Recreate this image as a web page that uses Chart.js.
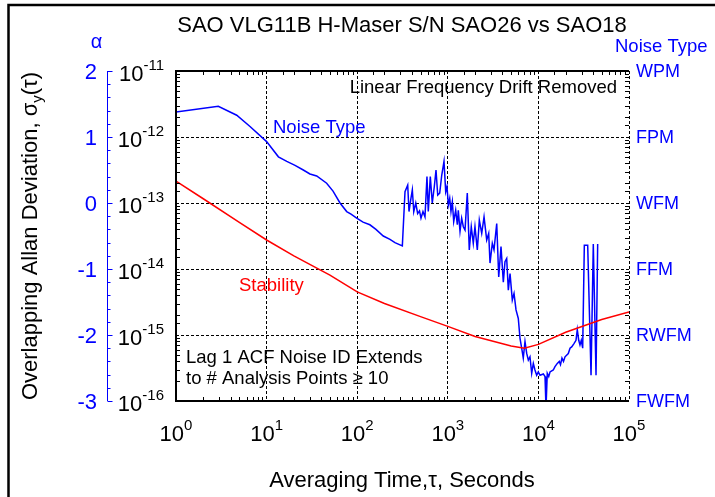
<!DOCTYPE html>
<html>
<head>
<meta charset="utf-8">
<title>SAO VLG11B H-Maser S/N SAO26 vs SAO18</title>
<script src="https://cdn.jsdelivr.net/npm/chart.js@4.4.1/dist/chart.umd.min.js"></script>
<style>
    html, body { margin: 0; padding: 0; background: #fff; }
    canvas { display: block; }
</style>
</head>
<body>
<canvas id="adevChart" width="715" height="497"></canvas>
<script>
// Overlapping Allan deviation (red "Stability" curve)
const stabilityTau = [1, 2, 5, 10, 20, 50, 100, 200, 500, 1000, 2000, 5000, 7000, 10000, 20000, 50000, 100000];
const stabilitySigma = [2.15e-13, 1.16e-13, 5.1e-14, 2.75e-14, 1.58e-14, 8.1e-15, 4.5e-15, 3.0e-15, 1.9e-15,
    1.35e-15, 9.5e-16, 6.8e-16, 6.3e-16, 7.2e-16, 1.1e-15, 1.72e-15, 2.24e-15];

// Lag 1 ACF noise type (alpha, blue "Noise Type" curve)
const noiseTau = [1, 2.93, 4.68, 6.56, 10, 13.5, 16.7, 20.6, 25.4, 30.1, 35.7, 46, 54.1, 64.6, 76.6, 85.5, 98.7,
    116, 138, 161, 194, 230, 261, 315, 337, 361, 373, 392, 406, 421, 443, 465, 487, 506, 532, 560, 589, 609,
    641, 674, 710, 741, 774, 814, 857, 908, 948, 980, 1014, 1050, 1084, 1122, 1162, 1222, 1274, 1306, 1364,
    1422, 1483, 1549, 1641, 1726, 1816, 1911, 1995, 2117, 2228, 2368, 2512, 2688, 2827, 2924, 3100, 3236,
    3467, 3648, 3866, 4100, 4276, 4467, 4656, 4864, 5152, 5383, 5662, 6000, 6266, 6592, 6808, 7112, 7430,
    7740, 8072, 8433, 8790, 9162, 9572, 9977, 10420, 11330, 11830, 12130, 12530, 13000, 13430, 14600, 15240,
    16170, 17010, 17540, 18200, 18920, 19670, 21380, 22340, 23290, 24700, 26000, 26870, 27860, 28770, 29740,
    30820, 32130, 35000, 38100, 40360, 43250, 45100];
const noiseAlpha = [1.38, 1.465, 1.33, 1.16, 0.93, 0.70, 0.63, 0.57, 0.50, 0.44, 0.41, 0.30, 0.18, 0.0, -0.13,
    -0.17, -0.23, -0.29, -0.33, -0.40, -0.50, -0.55, -0.60, -0.65, 0.17, 0.27, -0.13, 0.07, 0.20, -0.13, 0.0,
    -0.16, -0.12, -0.23, -0.13, -0.21, 0.40, -0.13, 0.40, 0.0, 0.25, 0.50, 0.12, 0.15, 0.42, 0.63, 0.17, 0.25,
    -0.03, 0.07, -0.13, 0.02, -0.28, -0.11, -0.33, -0.11, -0.43, -0.23, -0.36, -0.41, 0.15, -0.71, -0.36,
    -0.61, -0.36, -0.71, -0.26, -0.46, -0.21, -0.56, -0.46, -0.91, -0.61, -0.71, -0.31, -1.12, -0.66, -1.20,
    -0.89, -0.84, -1.32, -1.07, -1.47, -1.37, -1.62, -1.75, -2.05, -2.23, -2.35, -2.10, -2.28, -2.38, -2.33,
    -2.58, -2.43, -2.53, -2.61, -2.56, -2.61, -2.59, -2.63, -3.10, -2.58, -2.63, -2.56, -2.53, -2.48, -2.43,
    -2.40, -2.45, -2.35, -2.40, -2.33, -2.28, -2.20, -2.18, -2.13, -2.08, -1.92, -2.08, -2.15, -2.08, -2.20,
    -0.64, -0.64, -2.61, -0.62, -2.61, -0.62];

// Axis labels
const xTickValues = [1, 10, 100, 1000, 10000, 100000];
const yTickValues = [1e-11, 1e-12, 1e-13, 1e-14, 1e-15, 1e-16];
const alphaTicks = [2, 1, 0, -1, -2, -3];
const noiseTypeLabels = ['WPM', 'FPM', 'WFM', 'FFM', 'RWFM', 'FWFM'];

const FONT = "'Liberation Sans', Arial, Helvetica, sans-serif";
const BLUE = '#0000ff';
const RED = '#ff0000';

function isDecade(v) {
    const l = Math.log10(v);
    return Math.abs(l - Math.round(l)) < 1e-6;
}

// "10" with a superscript exponent, y is the baseline of the "10"
function drawPower(ctx, value, x, y, align) {
    const exp = String(Math.round(Math.log10(value)));
    ctx.font = '22px ' + FONT;
    const baseW = ctx.measureText('10').width;
    ctx.font = '15px ' + FONT;
    const expW = ctx.measureText(exp).width;
    const left = align === 'right' ? x - baseW - expW : x - (baseW + expW) / 2;
    ctx.textAlign = 'left';
    ctx.textBaseline = 'alphabetic';
    ctx.font = '22px ' + FONT;
    ctx.fillText('10', left, y);
    ctx.font = '15px ' + FONT;
    ctx.fillText(exp, left + baseW, y - 11);
}

function text(ctx, str, x, y, size, color, align) {
    ctx.font = size + 'px ' + FONT;
    ctx.fillStyle = color;
    ctx.textAlign = align || 'left';
    ctx.textBaseline = 'alphabetic';
    ctx.fillText(str, x, y);
}

// Frame, tick labels, second axes and annotations
const decorations = {
    id: 'decorations',
    afterDraw(chart) {
        const { ctx, chartArea: a, scales } = chart;
        const xs = scales.x, ys = scales.y, as = scales.alpha;
        ctx.save();

        // figure border (top and left only)
        ctx.strokeStyle = '#000';
        ctx.lineWidth = 2.5;
        ctx.beginPath();
        ctx.moveTo(715, 5);
        ctx.lineTo(8.5, 5);
        ctx.lineTo(8.5, 497);
        ctx.stroke();

        // minor log ticks inside the frame
        ctx.lineWidth = 1;
        ctx.beginPath();
        xs.ticks.forEach(t => {
            if (isDecade(t.value)) return;
            const px = Math.round(xs.getPixelForValue(t.value)) + 0.5;
            ctx.moveTo(px, a.bottom); ctx.lineTo(px, a.bottom - 4);
            ctx.moveTo(px, a.top); ctx.lineTo(px, a.top + 4);
        });
        ys.ticks.forEach(t => {
            if (isDecade(t.value)) return;
            const py = Math.round(ys.getPixelForValue(t.value)) + 0.5;
            ctx.moveTo(a.left, py); ctx.lineTo(a.left + 4, py);
            ctx.moveTo(a.right, py); ctx.lineTo(a.right - 4, py);
        });
        ctx.stroke();

        // solid frame on left, top and bottom
        ctx.lineWidth = 2;
        ctx.beginPath();
        ctx.moveTo(a.right, a.top);
        ctx.lineTo(a.left, a.top);
        ctx.lineTo(a.left, a.bottom);
        ctx.lineTo(a.right, a.bottom);
        ctx.stroke();

        // log tick labels
        ctx.fillStyle = '#000';
        xTickValues.forEach(v => drawPower(ctx, v, xs.getPixelForValue(v), a.bottom + 40, 'center'));
        yTickValues.forEach(v => drawPower(ctx, v, a.left - 12, ys.getPixelForValue(v) + 10, 'right'));

        // alpha axis on the far left
        const ax = 107.5;
        ctx.strokeStyle = BLUE;
        ctx.lineWidth = 1;
        ctx.beginPath();
        ctx.moveTo(ax, as.getPixelForValue(2));
        ctx.lineTo(ax, as.getPixelForValue(-3));
        for (let k = -15; k <= 10; k++) {
            const py = Math.round(as.getPixelForValue(k / 5)) + 0.5;
            ctx.moveTo(ax, py);
            ctx.lineTo(ax + (k % 5 === 0 ? 5 : 3), py);
        }
        ctx.stroke();
        alphaTicks.forEach(v => text(ctx, String(v), 97, as.getPixelForValue(v) + 8, 22, BLUE, 'right'));
        text(ctx, 'α', 96.5, 48, 20, BLUE, 'center');

        // noise type labels on the right
        noiseTypeLabels.forEach((lab, i) => text(ctx, lab, 636, as.getPixelForValue(alphaTicks[i]) + 6, 18, BLUE));
        text(ctx, 'Noise Type', 615, 52, 18.5, BLUE);

        // titles
        text(ctx, 'SAO VLG11B H-Maser S/N SAO26 vs SAO18', 402, 32, 22, '#000', 'center');
        text(ctx, 'Averaging Time,τ, Seconds', 402, 487, 22, '#000', 'center');

        // rotated y title with subscript
        ctx.save();
        ctx.translate(37, 236);
        ctx.rotate(-Math.PI / 2);
        ctx.fillStyle = '#000';
        ctx.textAlign = 'left';
        ctx.textBaseline = 'alphabetic';
        const p1 = 'Overlapping Allan Deviation, σ', p2 = 'y', p3 = '(τ)';
        ctx.font = '22px ' + FONT;
        const w1 = ctx.measureText(p1).width, w3 = ctx.measureText(p3).width;
        ctx.font = '15px ' + FONT;
        const w2 = ctx.measureText(p2).width;
        let sx = -(w1 + w2 + w3) / 2;
        ctx.font = '22px ' + FONT;
        ctx.fillText(p1, sx, 0);
        ctx.font = '15px ' + FONT;
        ctx.fillText(p2, sx + w1, 5);
        ctx.font = '22px ' + FONT;
        ctx.fillText(p3, sx + w1 + w2, 0);
        ctx.restore();

        // annotations inside the plot
        text(ctx, 'Linear Frequency Drift Removed', 617, 93, 18.5, '#000', 'right');
        text(ctx, 'Noise Type', 273, 133, 18.5, BLUE);
        text(ctx, 'Stability', 239, 291, 18.5, RED);
        text(ctx, 'Lag 1 ACF Noise ID Extends', 186, 363, 18.5, '#000');
        text(ctx, 'to # Analysis Points ≥ 10', 186, 384, 18.5, '#000');

        ctx.restore();
    }
};

const gridOpts = {
    drawTicks: false,
    color: '#000',
    lineWidth: c => (c.tick && isDecade(c.tick.value)) ? 1 : 0
};

new Chart(document.getElementById('adevChart'), {
    type: 'line',
    data: {
        datasets: [
            {
                label: 'Stability',
                data: stabilityTau.map((t, i) => ({ x: t, y: stabilitySigma[i] })),
                borderColor: RED,
                borderWidth: 1.5,
                pointRadius: 0,
                tension: 0,
                xAxisID: 'x',
                yAxisID: 'y'
            },
            {
                label: 'Noise Type',
                data: noiseTau.map((t, i) => ({ x: t, y: noiseAlpha[i] })),
                borderColor: BLUE,
                borderWidth: 1.5,
                pointRadius: 0,
                tension: 0,
                xAxisID: 'x',
                yAxisID: 'alpha'
            }
        ]
    },
    options: {
        responsive: false,
        animation: false,
        devicePixelRatio: 1,
        events: [],
        layout: { padding: { left: 176, right: 86, top: 71, bottom: 96 } },
        plugins: {
            legend: { display: false },
            tooltip: { enabled: false },
            title: { display: false }
        },
        scales: {
            x: {
                type: 'logarithmic',
                position: 'bottom',
                min: 1,
                max: 100000,
                ticks: { display: false },
                border: { display: false, dash: [3, 2] },
                grid: gridOpts
            },
            y: {
                type: 'logarithmic',
                position: 'left',
                min: 1e-16,
                max: 1e-11,
                ticks: { display: false },
                border: { display: false, dash: [3, 2] },
                grid: gridOpts
            },
            alpha: {
                type: 'linear',
                position: 'right',
                min: -3,
                max: 2,
                display: false
            }
        }
    },
    plugins: [decorations]
});
</script>
</body>
</html>
